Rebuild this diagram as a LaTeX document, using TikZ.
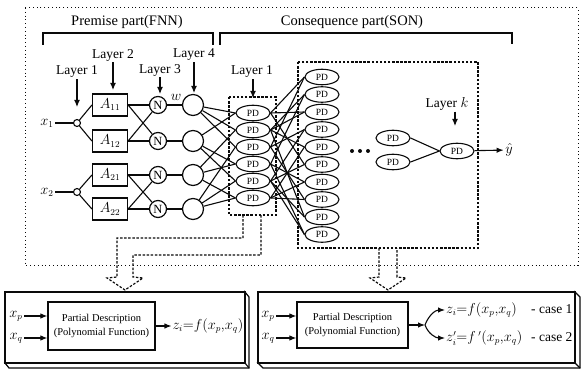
\documentclass[tikz,border=0pt]{standalone}
\usepackage{fontspec}
\setmainfont{Liberation Serif}
\usepackage{tikz}
\usetikzlibrary{arrows.meta}
\usetikzlibrary{shapes.geometric}
\definecolor{ColLine}{RGB}{10,10,10}
\tikzstyle{EdgeNet}=[ColLine,line width=1.1pt]
\tikzstyle{EdgeBracket}=[ColLine,line width=1.2pt]
\tikzstyle{ArrowLayer}=[ColLine,line width=1.2pt,-{Latex[length=7pt,width=6pt]}]
\tikzstyle{ArrowOut}=[ColLine,line width=1.1pt,-{Latex[length=7pt,width=5.5pt]}]
\tikzstyle{BoxDash}=[ColLine,line width=1.4pt,dash pattern=on 2.5pt off 1.6pt]
\tikzstyle{BoxDot}=[ColLine,line width=1pt,dash pattern=on 1pt off 2.8pt]
\tikzstyle{BoxSlab}=[ColLine,line width=1.2pt,fill=white]
\tikzstyle{TextHead}=[inner sep=1pt,font=\fontsize{14.5}{16}\selectfont]
\tikzstyle{TextLayer}=[inner sep=1pt,font=\fontsize{13.5}{15}\selectfont]
\tikzstyle{TextMath}=[inner sep=1.5pt,font=\fontsize{13.5}{15}\selectfont]
\tikzstyle{TextForm}=[inner sep=1pt,font=\fontsize{13.5}{15}\selectfont]
\tikzstyle{NodeIn}=[circle,draw=ColLine,line width=1.1pt,minimum size=7pt,inner sep=0pt]
\tikzstyle{NodeA}=[draw=ColLine,line width=1.2pt,minimum width=35pt,minimum height=22pt,inner sep=0pt,
font=\fontsize{13.5}{15}\selectfont]
\tikzstyle{NodeN}=[circle,draw=ColLine,line width=1.2pt,minimum size=17pt,inner sep=0pt,
font=\fontsize{12.5}{14}\selectfont]
\tikzstyle{NodeSum}=[circle,draw=ColLine,line width=1.2pt,minimum size=21pt,inner sep=0pt]
\tikzstyle{NodePD}=[ellipse,draw=ColLine,line width=1.1pt,minimum width=34pt,minimum height=15.5pt,
inner sep=0pt,font=\fontsize{9.5}{10}\selectfont]
\tikzstyle{NodeDesc}=[draw=ColLine,line width=1.2pt,align=center,inner sep=0pt,
font=\fontsize{10.5}{14}\selectfont]
\tikzstyle{NodeDot}=[circle,fill=ColLine,minimum size=4pt,inner sep=0pt]

\begin{document}
\begin{tikzpicture}[x=1pt,y=-1pt]
        \useasboundingbox(0,0)rectangle(582,369);
        % frame and the two parts
        \draw[BoxDot](25,8)rectangle(578,265);
        \node[TextHead](pre)at(127,22){Premise part(FNN)};
        \node[TextHead](con)at(352,22){Consequence part(SON)};
        \draw[EdgeBracket](43,45)--(43,33)--(213,33)--(213,45);
        \draw[EdgeBracket](220,45)--(220,33)--(512,33)--(512,44);
        % layer labels
        \node[TextLayer](LyA)at(77,72){Layer 1};
        \node[TextLayer](LyB)at(113,55){Layer 2};
        \node[TextLayer](LyC)at(160,70){Layer 3};
        \node[TextLayer](LyD)at(194,55){Layer 4};
        \node[TextLayer](LyE)at(252,72){Layer 1};
        \node[TextLayer](LyK)at(447,104){Layer $k$};
        \coordinate(LyAe)at(77,107);
        \coordinate(LyBe)at(113,90);
        \coordinate(LyCe)at(160,94);
        \coordinate(LyDe)at(194,93);
        \coordinate(LyEe)at(253,98);
        \coordinate(LyKe)at(455,126);
        \draw[ArrowLayer](LyA)--(LyAe);
        \draw[ArrowLayer](LyB)--(LyBe);
        \draw[ArrowLayer](LyC)--(LyCe);
        \draw[ArrowLayer](LyD)--(LyDe);
        \draw[ArrowLayer](LyE.south-|LyEe)--(LyEe);
        \draw[ArrowLayer](LyK.south-|LyKe)--(LyKe);
        % premise part
        \node[TextMath](xa)at(47,123){$x_1$};
        \node[TextMath](xb)at(47,192){$x_2$};
        \node[NodeIn](ia)at(77,123){};
        \node[NodeIn](ib)at(77,192){};
        \node[NodeA](Aaa)at(110,105){$A_{11}$};
        \node[NodeA](Aab)at(110,141){$A_{12}$};
        \node[NodeA](Aba)at(110,175){$A_{21}$};
        \node[NodeA](Abb)at(110,209){$A_{22}$};
        \node[NodeN](Na)at(158,105){N};
        \node[NodeN](Nb)at(158,141){N};
        \node[NodeN](Nc)at(158,175){N};
        \node[NodeN](Nd)at(158,209){N};
        \node[NodeSum](Ca)at(193,105){};
        \node[NodeSum](Cb)at(193,141){};
        \node[NodeSum](Cc)at(193,175){};
        \node[NodeSum](Cd)at(193,209){};
        \node[TextMath](wt)at(176,97){$w$};
        \draw[EdgeNet](xa)--(ia);
        \draw[EdgeNet](xb)--(ib);
        \draw[EdgeNet](ia)--(Aaa.west);
        \draw[EdgeNet](ia)--(Aab.west);
        \draw[EdgeNet](ib)--(Aba.west);
        \draw[EdgeNet](ib)--(Abb.west);
        \draw[EdgeNet](Aaa.east)--(Na);
        \draw[EdgeNet](Aaa.east)--(Nb);
        \draw[EdgeNet](Aab.east)--(Na);
        \draw[EdgeNet](Aab.east)--(Nb);
        \draw[EdgeNet](Aba.east)--(Nc);
        \draw[EdgeNet](Aba.east)--(Nd);
        \draw[EdgeNet](Abb.east)--(Nc);
        \draw[EdgeNet](Abb.east)--(Nd);
        \draw[EdgeNet](Na)--(Ca);
        \draw[EdgeNet](Nb)--(Cb);
        \draw[EdgeNet](Nc)--(Cc);
        \draw[EdgeNet](Nd)--(Cd);
        % consequence part, layer 1
        \draw[BoxDash](229,97)rectangle(276,215);
        \node[NodePD](Pa)at(253,113){PD};
        \node[NodePD](Pb)at(253,130){PD};
        \node[NodePD](Pc)at(253,147){PD};
        \node[NodePD](Pd)at(253,164){PD};
        \node[NodePD](Pe)at(253,181){PD};
        \node[NodePD](Pf)at(253,198){PD};
        \draw[EdgeNet](Ca)--(Pa.west);
        \draw[EdgeNet](Ca)--(Pb.west);
        \draw[EdgeNet](Ca)--(Pc.west);
        \draw[EdgeNet](Cb)--(Pa.west);
        \draw[EdgeNet](Cb)--(Pd.west);
        \draw[EdgeNet](Cb)--(Pe.west);
        \draw[EdgeNet](Cc)--(Pb.west);
        \draw[EdgeNet](Cc)--(Pd.west);
        \draw[EdgeNet](Cc)--(Pf.west);
        \draw[EdgeNet](Cd)--(Pc.west);
        \draw[EdgeNet](Cd)--(Pe.west);
        \draw[EdgeNet](Cd)--(Pf.west);
        % consequence part, layer 2 to layer k
        \draw[BoxDash](298,62)rectangle(478,248);
        \node[NodePD](Qa)at(322,77){PD};
        \node[NodePD](Qb)at(322,94.5){PD};
        \node[NodePD](Qc)at(322,112){PD};
        \node[NodePD](Qd)at(322,129.5){PD};
        \node[NodePD](Qe)at(322,147){PD};
        \node[NodePD](Qf)at(322,164.5){PD};
        \node[NodePD](Qg)at(322,182){PD};
        \node[NodePD](Qh)at(322,199.5){PD};
        \node[NodePD](Qi)at(322,217){PD};
        \node[NodePD](Qj)at(322,234.5){PD};
        \draw[EdgeNet](Pa.east)--(Qa.west);
        \draw[EdgeNet](Pc.east)--(Qa.west);
        \draw[EdgeNet](Pb.east)--(Qb.west);
        \draw[EdgeNet](Pd.east)--(Qb.west);
        \draw[EdgeNet](Pa.east)--(Qc.west);
        \draw[EdgeNet](Pb.east)--(Qc.west);
        \draw[EdgeNet](Pc.east)--(Qd.west);
        \draw[EdgeNet](Pe.east)--(Qd.west);
        \draw[EdgeNet](Pb.east)--(Qe.west);
        \draw[EdgeNet](Pf.east)--(Qe.west);
        \draw[EdgeNet](Pa.east)--(Qf.west);
        \draw[EdgeNet](Pe.east)--(Qf.west);
        \draw[EdgeNet](Pd.east)--(Qg.west);
        \draw[EdgeNet](Pf.east)--(Qg.west);
        \draw[EdgeNet](Pc.east)--(Qh.west);
        \draw[EdgeNet](Pf.east)--(Qh.west);
        \draw[EdgeNet](Pb.east)--(Qi.west);
        \draw[EdgeNet](Pe.east)--(Qi.west);
        \draw[EdgeNet](Pd.east)--(Qj.west);
        \draw[EdgeNet](Pe.east)--(Qj.west);
        \node[NodeDot](da)at(352,151){};
        \node[NodeDot](db)at(360,151){};
        \node[NodeDot](dc)at(368,151){};
        \node[NodePD](Ra)at(393,138){PD};
        \node[NodePD](Rb)at(393,162){PD};
        \node[NodePD](Rk)at(457,151){PD};
        \node[TextMath](yh)at(509,150){$\hat{y}$};
        \draw[EdgeNet](Ra.east)--(Rk.west);
        \draw[EdgeNet](Rb.east)--(Rk.west);
        \draw[ArrowOut](Rk)--(yh);
        % dashed hollow arrows
        \draw[BoxDash,line width=1.2pt](243,215)--(243,238)--(117,238)--(117,277)--(107,278)--(125,290)
            --(143,278)--(133,277)--(133,255)--(261,255)--(261,215);
        \draw[BoxDash,line width=1.2pt](379,248)--(379,277)--(370,278)--(388,290)--(406,278)--(397,277)
            --(397,248);
        % bottom left box
        \draw[BoxSlab](245,292)--(249,297)--(249,368)--(9,368)--(5,363)--(245,363)--cycle;
        \draw[BoxSlab](5,292)rectangle(245,363);
        \draw[EdgeNet](245,363)--(249,368);
        \node[TextMath](xpL)at(16,316){$x_p$};
        \node[TextMath](xqL)at(16,338){$x_q$};
        \node[NodeDesc,minimum width=107pt,minimum height=48pt](PDescL)at(101.5,326)
            {Partial Description\\(Polynomial Function)};
        \node[TextForm](zL)at(208,326){$z_i{=}f(x_p{,}x_q)$};
        \draw[ArrowOut](xpL)--(xpL-|PDescL.west);
        \draw[ArrowOut](xqL)--(xqL-|PDescL.west);
        \draw[ArrowOut](PDescL)--(zL);
        % bottom right box
        \draw[BoxSlab](575,292)--(580,297)--(580,368)--(263,368)--(258,363)--(575,363)--cycle;
        \draw[BoxSlab](258,292)rectangle(575,363);
        \draw[EdgeNet](575,363)--(580,368);
        \node[TextMath](xpR)at(268,316){$x_p$};
        \node[TextMath](xqR)at(268,338){$x_q$};
        \node[NodeDesc,minimum width=111pt,minimum height=46pt](PDescR)at(352.5,325)
            {Partial Description\\(Polynomial Function)};
        \coordinate(fork)at(425,325);
        \node[TextForm,anchor=west](zRa)at(445,310){\makebox[85pt][l]{$z_i{=}f(x_p{,}x_q)$}- case 1};
        \node[TextForm,anchor=west](zRb)at(445,338){\makebox[85pt][l]{$z_i'{=}f\,'(x_p{,}x_q)$}- case 2};
        \draw[ArrowOut](xpR)--(xpR-|PDescR.west);
        \draw[ArrowOut](xqR)--(xqR-|PDescR.west);
        \draw[ArrowOut](PDescR)--(fork);
        \draw[ArrowOut](fork)to[out=70,in=180](zRa.west);
        \draw[ArrowOut](fork)to[out=-70,in=180](zRb.west);
    \end{tikzpicture}
\end{document}
